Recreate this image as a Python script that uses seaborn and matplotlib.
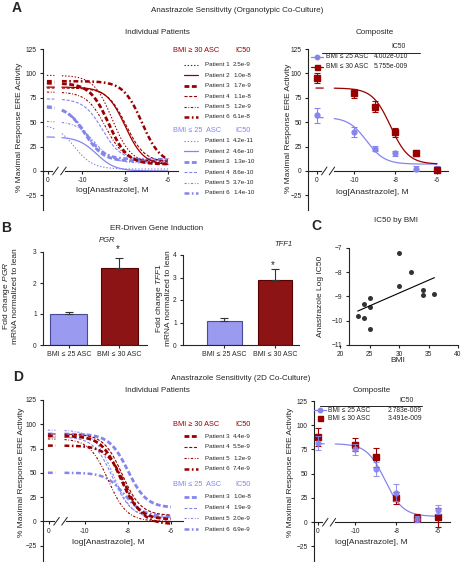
import numpy as np
import matplotlib
matplotlib.use("Agg")
import matplotlib.pyplot as plt
import seaborn as sns
from matplotlib.lines import Line2D

sns.set_theme(style="ticks")
plt.rcParams['font.family'] = ['Liberation Sans', 'DejaVu Sans']
plt.rcParams['mathtext.fontset'] = 'custom'
plt.rcParams['mathtext.rm'] = 'Liberation Sans'
plt.rcParams['mathtext.it'] = 'Liberation Sans:italic'
plt.rcParams['lines.scale_dashes'] = False
plt.rcParams['axes.linewidth'] = 0.8
plt.rcParams['xtick.major.width'] = 0.8
plt.rcParams['ytick.major.width'] = 0.8
plt.rcParams['xtick.major.size'] = 2.5
plt.rcParams['ytick.major.size'] = 2.5
plt.rcParams['xtick.major.pad'] = 2
plt.rcParams['ytick.major.pad'] = 2

RED = '#990000'
BLUE = '#8585ee'
TICK_FS = 4.8
LAB_FS = 6
TITLE_FS = 5.8
LEG_FS = 4.5

# ---- data ----
patients = ['Patient 1', 'Patient 2', 'Patient 3', 'Patient 4', 'Patient 5', 'Patient 6']

# A, organotypic, individual patient fits (IC50 from legend, top/bottom)
a_obese_ic50 = ['2.5e-9', '1.0e-8', '1.7e-9', '1.1e-8', '1.2e-9', '6.1e-8']
a_obese_top = [98, 86, 90, 85, 81, 92]
a_obese_bottom = [8, 6, 7, 9, 10, 7]
a_lean_ic50 = ['4.2e-11', '4.6e-10', '1.3e-10', '8.6e-10', '3.7e-10', '1.4e-10']
a_lean_top = [48, 35, 67, 74, 51, 66]
a_lean_bottom = [2, 0, 10, 11, 8, 12]

# A composite
doses = [0.0, 1e-10, 1e-9, 1e-8, 1e-7, 1e-6]
a_comp_lean = [57, 40, 23, 18, 2.5, 2.5]
a_comp_lean_err = [8, 5, 3, 2.5, 3, 3]
a_comp_obese = [95, 79.5, 66, 39.5, 18, 1]
a_comp_obese_err = [5, 5, 6, 5, 3, 2]
a_comp_ic50 = ['4.002e-010', '5.755e-009']
a_comp_top = [55, 85]
a_comp_bottom = [7, 7]

# B
b_groups = ['BMI ≤ 25 ASC', 'BMI ≤ 30 ASC']
pgr_mean = [1.0, 2.48]
pgr_sem = [0.07, 0.33]
tff1_mean = [1.05, 2.88]
tff1_sem = [0.15, 0.52]

# C
c_bmi = [23, 24, 24, 25, 25, 25, 30, 30, 32, 34, 34, 36]
c_logic50 = [-9.82, -9.32, -9.88, -9.05, -9.42, -10.36, -7.2, -8.57, -8.0, -8.75, -8.95, -8.9]

# D, 2D co-culture, individual patient fits
d_patients = ['Patient 3', 'Patient 4', 'Patient 5', 'Patient 6']
d_obese_ic50 = ['4.4e-9', '5.5e-9', '1.2e-9', '7.4e-9']
d_obese_top = [88, 90, 85, 78]
d_obese_bottom = [2, 6, 0, -3]
d_lean_ic50 = ['1.0e-8', '1.9e-9', '2.0e-9', '6.9e-9']
d_lean_top = [90, 87, 94, 50]
d_lean_bottom = [14, 4, 3, 5]

# D composite
d_comp_lean = [81.5, 75, 55, 30.5, 3.5, 13]
d_comp_lean_err = [7.5, 5.5, 7.5, 9, 3, 5]
d_comp_obese = [88, 80, 67, 25, 4.5, 5]
d_comp_obese_err = [9.5, 7, 10, 6, 4, 9.5]
d_comp_ic50 = ['2.783e-009', '3.491e-009']
d_comp_top = [81]
d_comp_bottom = [6]

# line styles per patient: (dashes, linewidth)
styles = {
    'Patient 1': ((0, (1, 1.3)), 0.8),
    'Patient 2': ('-', 0.9),
    'Patient 3': ((0, (3.5, 1.8)), 2.0),
    'Patient 4': ((0, (2.2, 1.2)), 0.8),
    'Patient 5': ((0, (1.6, 1.2, 0.6, 1.2)), 0.8),
    'Patient 6': ((0, (3.5, 1.8, 1.2, 1.8)), 1.8),
}

W, H = 462, 562
fig = plt.figure(figsize=(W / 100, H / 100), dpi=100)


def px_axes(l, t, r, b):
    return fig.add_axes([l / W, 1 - b / H, (r - l) / W, (b - t) / H])


def four_pl(x, top, bottom, logic50, hill=1.0):
    return bottom + (top - bottom) / (1 + 10 ** ((x - logic50) * hill))


def dose_x(d, x0):
    return [np.log10(v) if v > 0 else x0 for v in d]


def dose_axes(ax, x0, xlim, ylim):
    ax.set_xlim(xlim)
    ax.set_ylim(ylim)
    ax.set_xticks([x0, -10, -8, -6], ['0', '-10', '-8', '-6'])
    ax.set_yticks(range(-25, 126, 25))
    ax.tick_params(labelsize=TICK_FS, colors='#222222')
    sns.despine(ax=ax)
    ax.spines['bottom'].set_position(('data', 0))
    ax.spines['left'].set_color('#222222')
    ax.spines['bottom'].set_color('#222222')
    ax.set_xlabel('')
    ax.set_ylabel('')
    # axis break
    b1, b2 = x0 + 0.35, x0 + 0.72
    ax.plot([b1, b2], [0, 0], color='white', lw=3, zorder=5, clip_on=False)
    for b in (b1, b2):
        ax.plot([b - 0.13, b + 0.13], [-4, 4], color='#222222', lw=0.7, zorder=6, clip_on=False)


def draw_fit(ax, x0, top, bottom, logic50, color, ls, lw):
    xs1 = np.linspace(x0 - 0.05, x0 + 0.3, 5)
    xs2 = np.linspace(-10.95, -6.0, 200)
    for xs in (xs1, xs2):
        sns.lineplot(x=xs, y=four_pl(xs, top, bottom, logic50), ax=ax, color=color,
                     linestyle=ls, lw=lw, estimator=None, sort=False)


# overlay for texts/legends in pixel coordinates
ov = fig.add_axes([0, 0, 1, 1])
ov.set_xlim(0, W)
ov.set_ylim(H, 0)
ov.axis('off')
ov.set_zorder(10)


def txt(x, y, s, **kw):
    kw.setdefault('fontsize', LEG_FS)
    kw.setdefault('va', 'center')
    ov.text(x, y, s, **kw)


def patient_legend(y0, header, color, names, ic50s, step, ystart):
    txt(173, y0, header, color=color, fontsize=5.3)
    txt(243, y0, 'IC50', color=color, fontsize=5.3, ha='center')
    for i, (n, v) in enumerate(zip(names, ic50s)):
        y = ystart + i * step
        ls, lw = styles[n]
        ov.add_line(Line2D([184, 198], [y, y], color=color, linestyle=ls, lw=lw))
        txt(205, y, n)
        txt(233, y, v)


# ---------------- A ----------------
txt(17, 8, 'A', fontsize=10, weight='bold', ha='center')
txt(237, 10, 'Anastrazole Sensitivity (Organotypic Co-Culture)', fontsize=TITLE_FS, ha='center')
txt(157, 33, 'Individual Patients', fontsize=TITLE_FS, ha='center')
txt(375, 33, 'Composite', fontsize=TITLE_FS, ha='center')

x0a = -11.6
axa = px_axes(43, 49, 178, 210)
for p, top, bot, ic in zip(patients, a_lean_top, a_lean_bottom, a_lean_ic50):
    draw_fit(axa, x0a, top, bot, np.log10(float(ic)), BLUE, *styles[p])
for p, top, bot, ic in zip(patients, a_obese_top, a_obese_bottom, a_obese_ic50):
    draw_fit(axa, x0a, top, bot, np.log10(float(ic)), RED, *styles[p])
dose_axes(axa, x0a, (x0a - 5 / 21.5, -6 + 10 / 21.5), (-40, 125))
txt(20, 127, '% Maximal Response ERE Activity', fontsize=LAB_FS, rotation=90, ha='center')
txt(112, 191, 'log[Anastrazole], M', fontsize=LAB_FS, ha='center')
patient_legend(51, 'BMI ≥ 30 ASC', RED, patients, a_obese_ic50, 10.4, 65)
patient_legend(130, 'BMI ≤ 25  ASC', BLUE, patients, a_lean_ic50, 10.4, 141)

x0c = -11.78
axac = px_axes(308, 49, 448, 210)
xa = dose_x(doses, x0c)
for top, bot, ic, col in zip(a_comp_top, a_comp_bottom, a_comp_ic50, [BLUE, RED]):
    draw_fit(axac, x0c, top, bot, np.log10(float(ic)), col, '-', 0.9)
axac.errorbar(xa, a_comp_lean, yerr=a_comp_lean_err, fmt='o', ms=3.5, color=BLUE,
              capsize=2, elinewidth=0.8, capthick=0.8, clip_on=False, zorder=4)
axac.errorbar(xa, a_comp_obese, yerr=a_comp_obese_err, fmt='s', ms=4, color=RED,
              capsize=2, elinewidth=0.8, capthick=0.8, clip_on=False, zorder=4)
dose_axes(axac, x0c, (x0c - 9 / 20.75, -6 + 11 / 20.75), (-40, 125))
txt(288, 128, '% Maximal Response ERE Activity', fontsize=LAB_FS, rotation=90, ha='center')
txt(372, 192, 'log[Anastrazole], M', fontsize=LAB_FS, ha='center')
txt(399, 47, 'IC50', fontsize=4.9, ha='center')
ov.add_line(Line2D([322, 420], [53, 53], color='#222222', lw=0.7))
ov.add_line(Line2D([311, 317, 323], [57, 57, 57], color=BLUE, lw=0.9, marker='o', ms=3.2, markevery=[1]))
ov.add_line(Line2D([311, 317, 323], [67, 67, 67], color=RED, lw=0.9, marker='s', ms=3.6, markevery=[1]))
txt(326, 57, b_groups[0], fontsize=4.9)
txt(326, 67, b_groups[1], fontsize=4.9)
txt(374, 57, a_comp_ic50[0], fontsize=4.9)
txt(374, 67, a_comp_ic50[1], fontsize=4.9)

# ---------------- B ----------------
txt(6, 228, 'B', fontsize=10, weight='bold', ha='center')
txt(157, 229, 'ER-Driven Gene Induction', fontsize=TITLE_FS, ha='center')


def bar_panel(l, r, top_px, xlim, means, sems, ymax, width):
    ax = px_axes(l, top_px, r, 345)
    sns.barplot(x=b_groups, y=means, hue=b_groups, palette=['#8c8cff', '#a00000'],
                width=width, legend=False, ax=ax, linewidth=0.8)
    for patch, ec in zip(ax.patches, ['#4a4a9a', '#5a0000']):
        patch.set_edgecolor(ec)
    ax.errorbar([0, 1], means, yerr=[[0, 0], sems], fmt='none', ecolor='#333333',
                capsize=3, elinewidth=0.8, capthick=0.8)
    ax.set_xlim(xlim)
    ax.set_ylim(0, ymax)
    ax.set_yticks(range(0, ymax + 1))
    ax.set_xticks([0, 1], b_groups)
    ax.tick_params(axis='y', labelsize=TICK_FS)
    ax.tick_params(axis='x', labelsize=5)
    sns.despine(ax=ax)
    ax.set_xlabel('')
    ax.set_ylabel('')
    return ax


bar_panel(43, 147, 252, (-0.51, 1.55), pgr_mean, pgr_sem, 3, 0.74)
txt(107, 240, 'PGR', fontsize=5.5, style='italic', ha='center')
txt(118, 249, '*', fontsize=7, ha='center')
txt(10, 296, 'Fold change $\\it{PGR}$\nmRNA normalized to lean', fontsize=LAB_FS,
    rotation=90, ha='center', multialignment='center', linespacing=1.05)

bar_panel(183, 299, 255, (-0.82, 1.48), tff1_mean, tff1_sem, 4, 0.68)
txt(283, 245, 'TFF1', fontsize=5.5, style='italic', ha='center')
txt(273, 265, '*', fontsize=7, ha='center')
txt(163, 298, 'Fold change $\\it{TFF1}$\nmRNA normalized to lean', fontsize=LAB_FS,
    rotation=90, ha='center', multialignment='center', linespacing=1.0)

# ---------------- C ----------------
txt(316, 226, 'C', fontsize=10, weight='bold', ha='center')
txt(396, 221, 'IC50 by BMI', fontsize=TITLE_FS, ha='center')
axc = px_axes(340, 248, 458, 345)
sns.regplot(x=c_bmi, y=c_logic50, ci=None, ax=axc, truncate=True,
            scatter_kws=dict(s=13, color='black', linewidths=0),
            line_kws=dict(color='black', lw=0.8))
axc.set_xlim(20, 40)
axc.set_ylim(-11, -7)
axc.set_xticks([20, 25, 30, 35, 40])
axc.set_yticks([-11, -10, -9, -8, -7])
axc.tick_params(labelsize=TICK_FS)
sns.despine(ax=axc)
axc.spines['left'].set_position(('data', 21.5))
axc.spines['bottom'].set_bounds(21.5, 40)
axc.set_xlabel('')
axc.set_ylabel('')
txt(320, 296, 'Anastrazole Log IC50', fontsize=LAB_FS, rotation=90, ha='center')
txt(398, 361, 'BMI', fontsize=LAB_FS, ha='center')

# ---------------- D ----------------
txt(18, 377, 'D', fontsize=10, weight='bold', ha='center')
txt(241, 379, 'Anastrazole Sensitivity (2D Co-Culture)', fontsize=TITLE_FS, ha='center')
txt(157, 390, 'Individual Patients', fontsize=TITLE_FS, ha='center')
txt(372, 390, 'Composite', fontsize=TITLE_FS, ha='center')

x0d = -11.67
axd = px_axes(43, 400, 183, 562)
for p, top, bot, ic in zip(d_patients, d_lean_top, d_lean_bottom, d_lean_ic50):
    draw_fit(axd, x0d, top, bot, np.log10(float(ic)), BLUE, *styles[p])
for p, top, bot, ic in zip(d_patients, d_obese_top, d_obese_bottom, d_obese_ic50):
    draw_fit(axd, x0d, top, bot, np.log10(float(ic)), RED, *styles[p])
dose_axes(axd, x0d, (x0d - 6 / 21.5, -6 + 12 / 21.5), (-42, 125))
txt(22, 472, '% Maximal Response ERE Activity', fontsize=LAB_FS, rotation=90, ha='center')
txt(108, 543, 'log[Anastrazole], M', fontsize=LAB_FS, ha='center')
patient_legend(425, 'BMI ≥ 30 ASC', RED, d_patients, d_obese_ic50, 11, 436)
patient_legend(485, 'BMI ≤ 25  ASC', BLUE, d_patients, d_lean_ic50, 10.7, 497)

x0e = -11.78
axdc = px_axes(314, 401, 450, 562)
xd = dose_x(doses, x0e)
draw_fit(axdc, x0e, d_comp_top[0], d_comp_bottom[0], np.log10(float(d_comp_ic50[0])), BLUE, '-', 0.9)
axdc.errorbar(xd, d_comp_obese, yerr=d_comp_obese_err, fmt='s', ms=4, color=RED,
              capsize=2, elinewidth=0.8, capthick=0.8, clip_on=False, zorder=4)
axdc.errorbar(xd, d_comp_lean, yerr=d_comp_lean_err, fmt='o', ms=3.5, color=BLUE, alpha=0.85,
              capsize=2, elinewidth=0.8, capthick=0.8, clip_on=False, zorder=5)
dose_axes(axdc, x0e, (x0e - 4 / 20.75, -6 + 12 / 20.75), (-41, 125))
txt(291, 472, '% Maximal Response ERE Activity', fontsize=LAB_FS, rotation=90, ha='center')
txt(371, 543, 'log[Anastrazole], M', fontsize=LAB_FS, ha='center')
txt(406, 401, 'IC50', fontsize=4.9, ha='center')
ov.add_line(Line2D([320, 422], [406, 406], color='#222222', lw=0.7))
ov.add_line(Line2D([314, 320, 326], [410, 410, 410], color=BLUE, lw=0.9, marker='o', ms=3.2, markevery=[1]))
ov.add_line(Line2D([320], [418], color=RED, lw=0, marker='s', ms=3.6))
txt(328, 410, b_groups[0], fontsize=4.9)
txt(328, 418, b_groups[1], fontsize=4.9)
txt(388, 410, d_comp_ic50[0], fontsize=4.9)
txt(388, 418, d_comp_ic50[1], fontsize=4.9)

fig.savefig('out.png', dpi=100)
